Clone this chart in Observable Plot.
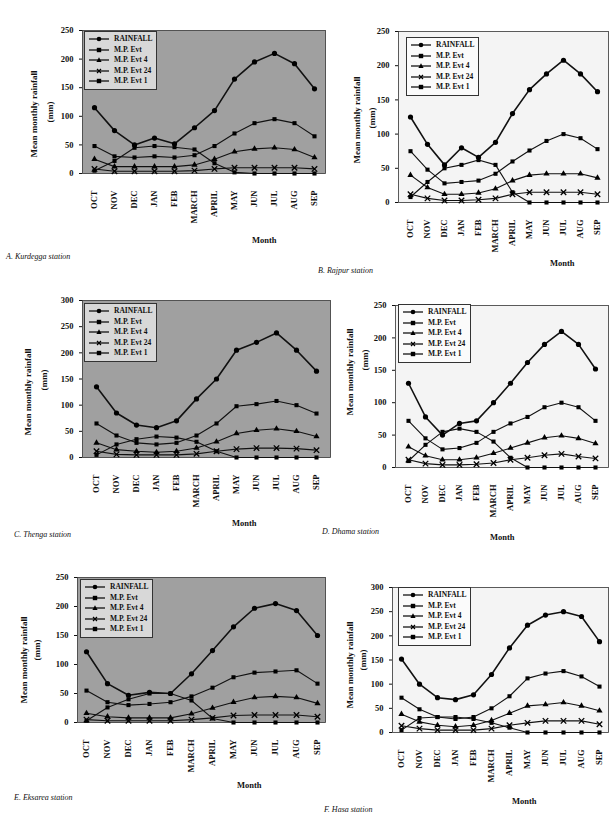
<!DOCTYPE html>
<html><head><meta charset="utf-8">
<script src="https://cdn.jsdelivr.net/npm/d3@7"></script>
<script src="https://cdn.jsdelivr.net/npm/@observablehq/plot@0.6"></script>
<style>
body{margin:0;background:#fff;}
#page{position:relative;width:609px;height:814px;overflow:hidden;background:#fff;font-family:"Liberation Serif","DejaVu Serif",serif;color:#111;}
.panel{position:absolute;}
.leg{position:absolute;font-size:7.5px;line-height:10.5px;padding:2px 3px;border:1px solid #333;font-weight:bold;}
.leg div{white-space:nowrap;height:10.5px;}
.leg svg{vertical-align:middle;margin-right:4px;}
.ylab{position:absolute;font-size:9px;font-weight:bold;white-space:nowrap;transform:translate(-50%,-50%) rotate(-90deg);}
.xlab{position:absolute;font-size:8.5px;font-weight:bold;}
.cap{position:absolute;font-size:8px;font-style:italic;white-space:nowrap;}
</style></head><body><div id="page"></div>
<script>
// ---- data ----
const months = ["OCT","NOV","DEC","JAN","FEB","MARCH","APRIL","MAY","JUN","JUL","AUG","SEP"];
const seriesNames = ["RAINFALL","M.P. Evt","M.P. Evt 4","M.P. Evt 24","M.P. Evt 1"];
const yTicks250 = [0,50,100,150,200,250];
const yTicks300 = [0,50,100,150,200,250,300];

const panelA = [
  [115, 75, 50, 62, 52, 80, 110, 165, 195, 210, 192, 148],
  [48, 30, 28, 30, 28, 32, 48, 70, 88, 95, 88, 65],
  [25, 12, 12, 12, 12, 15, 25, 38, 43, 45, 42, 28],
  [8, 4, 4, 4, 4, 5, 8, 10, 10, 10, 10, 8],
  [5, 22, 45, 48, 46, 42, 18, 2, 0, 0, 0, 0]
];
const panelB = [
  [125, 85, 55, 80, 66, 88, 130, 165, 188, 208, 188, 162],
  [75, 48, 28, 30, 32, 42, 60, 76, 90, 100, 94, 78],
  [40, 22, 12, 12, 14, 20, 32, 40, 42, 42, 42, 36],
  [12, 6, 3, 3, 4, 6, 12, 15, 15, 15, 15, 12],
  [8, 30, 50, 55, 62, 55, 15, 0, 0, 0, 0, 0]
];
const panelC = [
  [135, 85, 62, 57, 70, 112, 150, 205, 220, 238, 205, 165],
  [65, 42, 28, 25, 28, 42, 65, 98, 102, 108, 100, 84],
  [28, 15, 12, 10, 12, 18, 30, 46, 52, 55, 50, 40],
  [12, 6, 5, 5, 5, 7, 12, 16, 18, 18, 17, 14],
  [5, 25, 35, 40, 38, 30, 12, 0, 0, 0, 0, 0]
];
const panelD = [
  [130, 78, 50, 68, 72, 100, 130, 162, 190, 210, 190, 152],
  [72, 45, 28, 30, 38, 55, 68, 78, 93, 100, 93, 72],
  [32, 18, 12, 12, 15, 22, 30, 38, 46, 49, 45, 37],
  [12, 6, 4, 4, 5, 7, 12, 15, 19, 21, 17, 14],
  [10, 35, 55, 60, 55, 40, 15, 0, 0, 0, 0, 0]
];
const panelE = [
  [122, 67, 47, 52, 50, 84, 124, 165, 197, 205, 193, 150],
  [55, 35, 30, 32, 35, 45, 60, 78, 86, 88, 90, 67],
  [16, 10, 8, 8, 8, 15, 25, 35, 43, 45, 43, 33],
  [5, 3, 3, 3, 3, 5, 8, 12, 13, 13, 13, 10],
  [3, 26, 40, 50, 50, 38, 7, 0, 0, 0, 0, 0]
];
const panelF = [
  [152, 100, 72, 68, 78, 120, 175, 222, 243, 250, 240, 188],
  [72, 48, 32, 28, 32, 50, 75, 112, 122, 127, 116, 95],
  [38, 22, 15, 12, 15, 25, 40, 55, 58, 62, 55, 45],
  [14, 8, 5, 5, 5, 8, 15, 20, 24, 24, 24, 17],
  [5, 30, 32, 32, 28, 20, 10, 0, 0, 0, 0, 0]
];
const captions = ["A. Kurdegga station","B. Rajpur station","C. Thenga station","D. Dhama station","E. Eksarea station","F. Hasa station"];
const yTitle = "Mean monthly rainfall";
const yUnit = "(mm)";
const xTitle = "Month";

// ---- layout ----
const layout = [
  {vals: panelA, left:0, top:0, w:330, h:240, ml:82, mr:5, mt:30, mb:67, pad:0.44, ymax:250, ticks:yTicks250, bg:"#a0a0a0", legBg:"#d8d8d8",
   leg:[84,31], ylab:[34,114], yunit:[50,112], xlab:[252,235], cap:[6,252]},
  {vals: panelB, left:330, top:0, w:279, h:270, ml:68, mr:1, mt:31, mb:68, pad:0.39, ymax:250, ticks:yTicks250, bg:"#f4f4f4", legBg:"#fbfbfb",
   leg:[406,37], ylab:[357,120], yunit:[372,118], xlab:[550,258], cap:[318,266]},
  {vals: panelC, left:0, top:280, w:332, h:250, ml:82, mr:2, mt:20, mb:73, pad:0.54, ymax:300, ticks:yTicks300, bg:"#a0a0a0", legBg:"#d8d8d8",
   leg:[84,303], ylab:[28,392], yunit:[44,380], xlab:[232,518], cap:[14,530]},
  {vals: panelD, left:330, top:280, w:279, h:260, ml:65, mr:1, mt:25, mb:73, pad:0.7, ymax:250, ticks:yTicks250, bg:"#f4f4f4", legBg:"#fbfbfb",
   leg:[398,304], ylab:[350,372], yunit:[365,360], xlab:[490,532], cap:[322,527]},
  {vals: panelE, left:0, top:550, w:330, h:240, ml:77, mr:5, mt:27, mb:68, pad:0.38, ymax:250, ticks:yTicks250, bg:"#a0a0a0", legBg:"#d8d8d8",
   leg:[80,579], ylab:[24,660], yunit:[37,650], xlab:[237,780], cap:[14,793]},
  {vals: panelF, left:330, top:550, w:279, h:250, ml:62, mr:1, mt:37, mb:68, pad:0.32, ymax:300, ticks:yTicks300, bg:"#f4f4f4", legBg:"#fbfbfb",
   leg:[398,587], ylab:[350,665], yunit:[363,660], xlab:[512,796], cap:[324,805]}
];

const symbols = ["circle","square","triangle","times","square"];
const page = document.getElementById("page");

function legendSymbol(i) {
  const s = symbols[i];
  let m = "";
  if (s === "circle") m = '<circle cx="11" cy="5" r="2.3" fill="#000"/>';
  else if (s === "square") m = '<rect x="8.8" y="2.8" width="4.4" height="4.4" fill="#000"/>';
  else if (s === "triangle") m = '<path d="M11,2.2L13.6,7H8.4Z" fill="#000"/>';
  else m = '<path d="M9,3L13,7M13,3L9,7" stroke="#000" stroke-width="1.2"/>';
  return `<svg width="22" height="10"><line x1="1" y1="5" x2="21" y2="5" stroke="#000" stroke-width="1.2"/>${m}</svg>`;
}

layout.forEach((cfg, pi) => {
  const data = [];
  cfg.vals.forEach((vals, si) => vals.forEach((v, mi) => data.push({month: months[mi], value: v, series: seriesNames[si], si})));
  const marks = [Plot.frame({fill: cfg.bg, stroke: "#333", strokeWidth: 0.8})];
  seriesNames.forEach((s, i) => {
    const d = data.filter(r => r.si === i);
    marks.push(Plot.line(d, {x: "month", y: "value", stroke: "#111", strokeWidth: i === 0 ? 1.6 : 1.1}));
    if (symbols[i] === "times") {
      marks.push(Plot.dot(d, {x: "month", y: "value", symbol: "times", stroke: "#000", strokeWidth: 1.3, r: 2.6}));
    } else {
      marks.push(Plot.dot(d, {x: "month", y: "value", symbol: symbols[i], fill: "#000", stroke: "none", r: i === 0 ? 2.6 : 2.3}));
    }
  });
  const chart = Plot.plot({
    width: cfg.w, height: cfg.h,
    marginLeft: cfg.ml, marginRight: cfg.mr, marginTop: cfg.mt, marginBottom: cfg.mb,
    style: {background: "transparent", fontFamily: "'Liberation Serif', serif", fontSize: "8.5px", color: "#111", fontWeight: "bold"},
    x: {type: "point", domain: months, padding: cfg.pad, label: null, tickRotate: -90, tickSize: 0, tickPadding: 17},
    y: {domain: [0, cfg.ymax], ticks: cfg.ticks, label: null, tickSize: 3, tickPadding: 6},
    marks
  });
  chart.classList.add("panel");
  chart.style.left = cfg.left + "px";
  chart.style.top = cfg.top + "px";
  page.appendChild(chart);

  const leg = document.createElement("div");
  leg.className = "leg";
  leg.style.left = cfg.leg[0] + "px";
  leg.style.top = cfg.leg[1] + "px";
  leg.style.background = cfg.legBg;
  leg.innerHTML = seriesNames.map((n, i) => `<div>${legendSymbol(i)}${n}</div>`).join("");
  page.appendChild(leg);

  const yl = document.createElement("div");
  yl.className = "ylab"; yl.textContent = yTitle;
  yl.style.left = cfg.ylab[0] + "px"; yl.style.top = cfg.ylab[1] + "px";
  page.appendChild(yl);
  const yu = document.createElement("div");
  yu.className = "ylab"; yu.textContent = yUnit;
  yu.style.left = cfg.yunit[0] + "px"; yu.style.top = cfg.yunit[1] + "px";
  page.appendChild(yu);

  const xl = document.createElement("div");
  xl.className = "xlab"; xl.textContent = xTitle;
  xl.style.left = cfg.xlab[0] + "px"; xl.style.top = cfg.xlab[1] + "px";
  page.appendChild(xl);

  const cp = document.createElement("div");
  cp.className = "cap"; cp.textContent = captions[pi];
  cp.style.left = cfg.cap[0] + "px"; cp.style.top = cfg.cap[1] + "px";
  page.appendChild(cp);
});
</script></body></html>
